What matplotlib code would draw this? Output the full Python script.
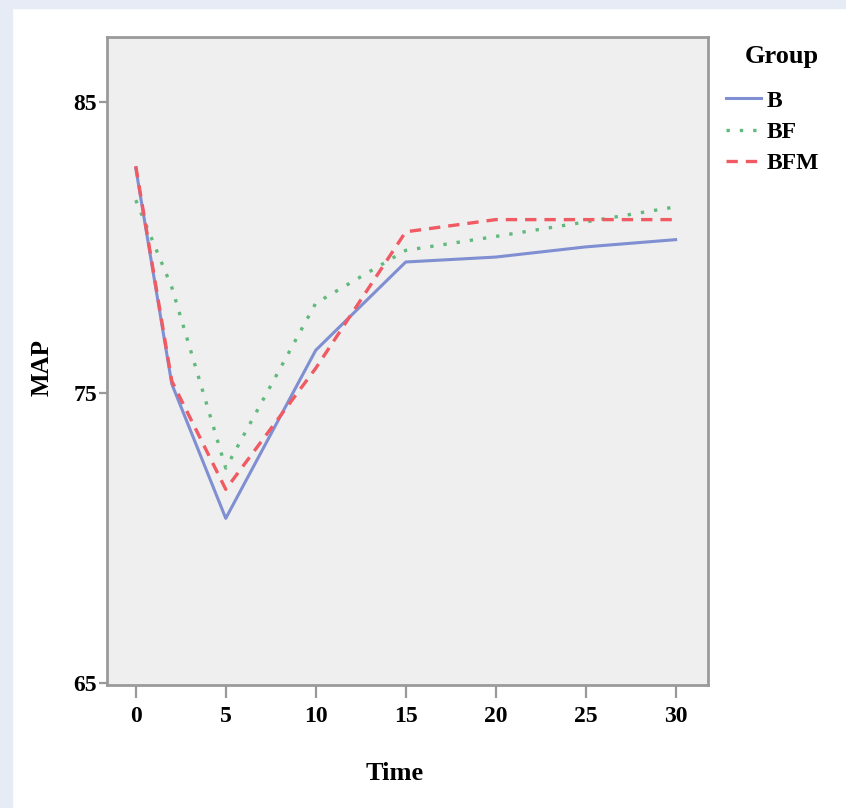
import matplotlib
matplotlib.use("Agg")
import matplotlib.pyplot as plt
from matplotlib.patches import Rectangle

# data
time = [0, 2, 5, 10, 15, 20, 25, 30]
map_b = [82.73, 75.3, 70.67, 76.46, 79.5, 79.67, 80.02, 80.27]
map_bf = [81.63, 78.63, 72.4, 78.08, 79.9, 80.38, 80.88, 81.4]
map_bfm = [82.8, 75.4, 71.67, 75.84, 80.54, 80.96, 80.96, 80.96]
groups = ["B", "BF", "BFM"]
xticks = [0, 5, 10, 15, 20, 25, 30]
yticks = [65, 75, 85]

plt.rcParams['font.family'] = ['Liberation Serif', 'DejaVu Serif']
plt.rcParams['font.weight'] = 'bold'

fig = plt.figure(figsize=(8.46, 8.08), dpi=100, facecolor="white")
# light blue page border on the left and top
fig.patches.append(Rectangle((0, 0), 12/846, 1, transform=fig.transFigure,
                             color="#e6ebf5", zorder=0))
fig.patches.append(Rectangle((0, 1 - 8/808), 1, 8/808, transform=fig.transFigure,
                             color="#e6ebf5", zorder=0))

ax = fig.add_axes([107/846, 1 - 685/808, 601/846, 648/808])
ax.set_facecolor("#efefef")

ax.plot(time, map_b, color="#7f8fd2", lw=2.2, label=groups[0])
ax.plot(time, map_bf, color="#62b97d", lw=2.4, ls=(0, (1, 3)), label=groups[1])
ax.plot(time, map_bfm, color="#f05a62", lw=2.4, ls=(0, (3.4, 2.4)), label=groups[2])

ax.set_xlim(-1.6, 31.8)
ax.set_ylim(64.93, 87.25)
ax.set_xticks(xticks)
ax.set_yticks(yticks)
ax.tick_params(axis="x", length=9, width=1.6, color="#999999", labelsize=17, pad=6)
ax.tick_params(axis="y", length=6, width=1.6, color="#999999", labelsize=17, pad=1)
for s in ax.spines.values():
    s.set_color("#9a9a9a")
    s.set_linewidth(2)

fig.text(395/846, 1 - 773/808, "Time", ha="center", va="center", fontsize=19, fontweight="bold")
fig.text(42/846, 1 - 368/808, "MAP", ha="center", va="center", rotation=90,
         fontsize=18, fontweight="bold")

# legend title drawn separately so its gap to the entries can be matched
fig.text(782/846, 1 - 57/808, "Group", ha="center", va="center", fontsize=19, fontweight="bold")
leg = ax.legend(loc="upper left", bbox_to_anchor=(726/846, 1 - 90/808),
                bbox_transform=fig.transFigure, frameon=False,
                fontsize=17, handlelength=1.5, handletextpad=0.2,
                labelspacing=0.42, borderpad=0, borderaxespad=0)

fig.savefig("out.png", dpi=100, facecolor=fig.get_facecolor())
